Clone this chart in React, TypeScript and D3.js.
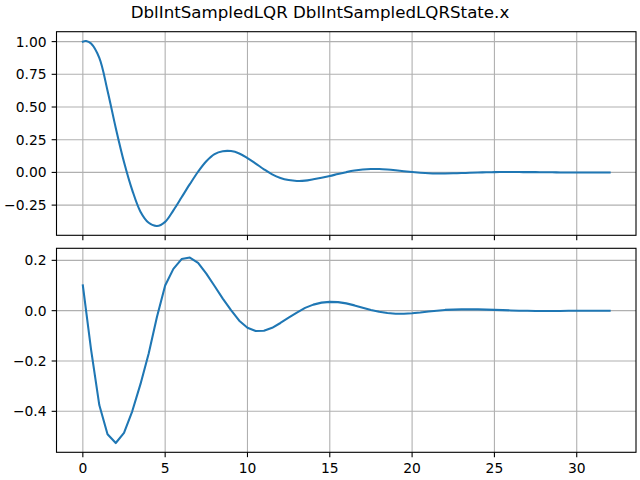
import { useMemo } from 'react'
import * as d3 from 'd3'

// sample times (s)
const time = d3.range(0, 32.01, 0.5)

// top panel: position, extra sample near the initial overshoot
const posTime = [0, 0.2, ...time.slice(1)]
const position = [
  1.0, 1.005, 0.985, 0.875, 0.625, 0.34, 0.08, -0.135, -0.3, -0.385, -0.41,
  -0.378, -0.29, -0.19, -0.09, 0.005, 0.085, 0.14, 0.162, 0.163, 0.145,
  0.11, 0.068, 0.024, -0.015, -0.042, -0.058, -0.065, -0.063, -0.052, -0.04,
  -0.027, -0.012, 0.002, 0.014, 0.022, 0.026, 0.026, 0.022, 0.016, 0.009,
  0.003, -0.002, -0.006, -0.008, -0.008, -0.007, -0.005, -0.003, -0.001, 0.001,
  0.002, 0.003, 0.003, 0.003, 0.002, 0.002, 0.001, 0.001, 0.0, 0.0,
  0.0, 0.0, 0.0, 0.0, 0.0
]

// bottom panel: velocity
const velocity = [
  0.1, -0.155, -0.375, -0.491, -0.526, -0.486, -0.4, -0.292, -0.17, -0.025,
  0.1, 0.166, 0.205, 0.211, 0.19, 0.147, 0.098, 0.048, 0.002, -0.04,
  -0.068, -0.081, -0.08, -0.068, -0.049, -0.028, -0.008, 0.011, 0.024, 0.032,
  0.035, 0.034, 0.029, 0.021, 0.012, 0.003, -0.004, -0.009, -0.012, -0.012,
  -0.01, -0.007, -0.003, 0.0, 0.003, 0.004, 0.005, 0.005, 0.005, 0.004,
  0.003, 0.002, 0.001, 0.0, 0.0, -0.001, -0.001, -0.001, -0.001, 0.0,
  0.0, 0.0, 0.0, 0.0, 0.0
]

const xTicks = [0, 5, 10, 15, 20, 25, 30]
const topYTicks = [-0.25, 0, 0.25, 0.5, 0.75, 1.0]
const bottomYTicks = [-0.4, -0.2, 0, 0.2]

const title = 'DblIntSampledLQR DblIntSampledLQRState.x'

const width = 640
const height = 480
const left = 56.5
const right = 636
const panels = [
  { top: 31.7, bottom: 235.3 },
  { top: 248.3, bottom: 452.3 }
]
const font = 'DejaVu Sans, sans-serif'
const grid = '#b0b0b0'
const blue = '#1f77b4'

function padded(values: number[]): [number, number] {
  const [lo, hi] = d3.extent(values) as [number, number]
  const pad = (hi - lo) * 0.05
  return [lo - pad, hi + pad]
}

interface PanelProps {
  xs: number[]
  ys: number[]
  yTicks: number[]
  fmt: (n: number) => string
  top: number
  bottom: number
  showXLabels: boolean
  smooth: boolean
}

function Panel({ xs, ys, yTicks, fmt, top, bottom, showXLabels, smooth }: PanelProps) {
  const x = d3.scaleLinear().domain(padded(xs)).range([left, right])
  const y = d3.scaleLinear().domain(padded(ys)).range([bottom, top])

  const line = d3.line<number>()
    .x((_, i) => x(xs[i]))
    .y(d => y(d))
    .curve(smooth ? d3.curveCatmullRom : d3.curveLinear)

  return (
    <g>
      <defs>
        <clipPath id={`clip-${top}`}>
          <rect x={left} y={top} width={right - left} height={bottom - top} />
        </clipPath>
      </defs>
      {xTicks.map(t => (
        <line key={`gx${t}`} x1={x(t)} x2={x(t)} y1={top} y2={bottom}
          stroke={grid} strokeWidth={1.1} />
      ))}
      {yTicks.map(t => (
        <line key={`gy${t}`} x1={left} x2={right} y1={y(t)} y2={y(t)}
          stroke={grid} strokeWidth={1.1} />
      ))}
      <path d={line(ys) || ''} fill="none" stroke={blue} strokeWidth={2.08}
        strokeLinejoin="round" strokeLinecap="square" clipPath={`url(#clip-${top})`} />
      <rect x={left} y={top} width={right - left} height={bottom - top}
        fill="none" stroke="#000" strokeWidth={1.1} />
      {xTicks.map(t => (
        <g key={`tx${t}`}>
          <line x1={x(t)} x2={x(t)} y1={bottom} y2={bottom + 4.86} stroke="#000" strokeWidth={1.1} />
          {showXLabels && (
            <text x={x(t)} y={bottom + 20.3} textAnchor="middle" fontSize={13.89}
              fontFamily={font} fill="#000">{t}</text>
          )}
        </g>
      ))}
      {yTicks.map(t => (
        <g key={`ty${t}`}>
          <line x1={left - 4.86} x2={left} y1={y(t)} y2={y(t)} stroke="#000" strokeWidth={1.1} />
          <text x={left - 9.9} y={y(t)} dy="0.36em" textAnchor="end" fontSize={13.89}
            fontFamily={font} fill="#000">{fmt(t)}</text>
        </g>
      ))}
    </g>
  )
}

export default function App() {
  const fmt2 = useMemo(() => d3.format('.2f'), [])
  const fmt1 = useMemo(() => d3.format('.1f'), [])

  return (
    <svg width={width} height={height} style={{ position: 'absolute', left: 0, top: 0, background: '#fff' }}>
      <rect width={width} height={height} fill="#fff" />
      <text x={width / 2} y={18.3} textAnchor="middle" fontSize={16.67} fontFamily={font} fill="#000">
        {title}
      </text>
      <Panel xs={posTime} ys={position} yTicks={topYTicks} fmt={fmt2}
        top={panels[0].top} bottom={panels[0].bottom} showXLabels={false} smooth />
      <Panel xs={time} ys={velocity} yTicks={bottomYTicks} fmt={fmt1}
        top={panels[1].top} bottom={panels[1].bottom} showXLabels smooth={false} />
    </svg>
  )
}
